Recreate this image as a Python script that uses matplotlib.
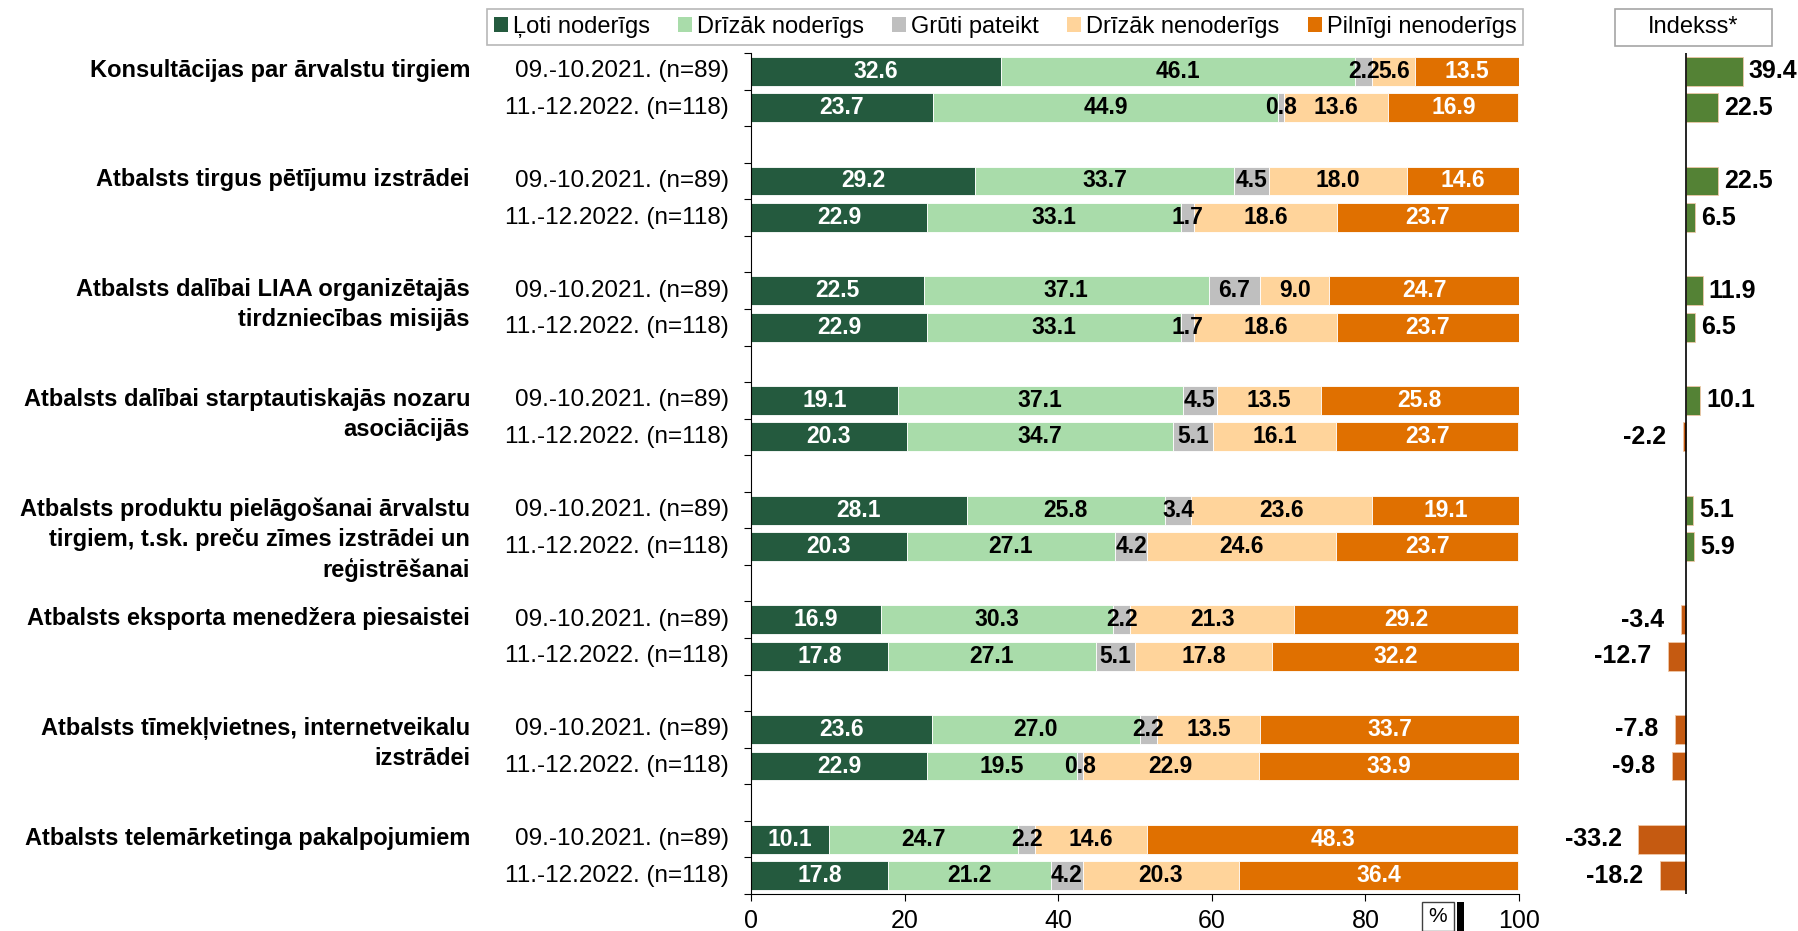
import matplotlib
matplotlib.use("Agg")
import matplotlib.pyplot as plt
from matplotlib.patches import Rectangle, Patch
import numpy as np

categories = [
    "Konsultācijas par ārvalstu tirgiem",
    "Atbalsts tirgus pētījumu izstrādei",
    "Atbalsts dalībai LIAA organizētajās\ntirdzniecības misijās",
    "Atbalsts dalībai starptautiskajās nozaru\nasociācijās",
    "Atbalsts produktu pielāgošanai ārvalstu\ntirgiem, t.sk. preču zīmes izstrādei un\nreģistrēšanai",
    "Atbalsts eksporta menedžera piesaistei",
    "Atbalsts tīmekļvietnes, internetveikalu\nizstrādei",
    "Atbalsts telemārketinga pakalpojumiem",
]
periods = ["09.-10.2021. (n=89)", "11.-12.2022. (n=118)"]
series_names = ["Ļoti noderīgs", "Drīzāk noderīgs", "Grūti pateikt", "Drīzāk nenoderīgs", "Pilnīgi nenoderīgs"]

loti_noderigs = [32.6, 23.7, 29.2, 22.9, 22.5, 22.9, 19.1, 20.3, 28.1, 20.3, 16.9, 17.8, 23.6, 22.9, 10.1, 17.8]
drizak_noderigs = [46.1, 44.9, 33.7, 33.1, 37.1, 33.1, 37.1, 34.7, 25.8, 27.1, 30.3, 27.1, 27.0, 19.5, 24.7, 21.2]
gruti_pateikt = [2.2, 0.8, 4.5, 1.7, 6.7, 1.7, 4.5, 5.1, 3.4, 4.2, 2.2, 5.1, 2.2, 0.8, 2.2, 4.2]
drizak_nenoderigs = [5.6, 13.6, 18.0, 18.6, 9.0, 18.6, 13.5, 16.1, 23.6, 24.6, 21.3, 17.8, 13.5, 22.9, 14.6, 20.3]
pilnigi_nenoderigs = [13.5, 16.9, 14.6, 23.7, 24.7, 23.7, 25.8, 23.7, 19.1, 23.7, 29.2, 32.2, 33.7, 33.9, 48.3, 36.4]
indekss = [39.4, 22.5, 22.5, 6.5, 11.9, 6.5, 10.1, -2.2, 5.1, 5.9, -3.4, -12.7, -7.8, -9.8, -33.2, -18.2]

colors = ["#245A3E", "#A9DCAA", "#BFBFBF", "#FFD49B", "#E07000"]
label_colors = ["white", "black", "black", "black", "white"]
pos_col, neg_col = "#548235", "#C55A11"

FONT = ["Liberation Sans", "DejaVu Sans"]

W, H = 1798, 931
fig = plt.figure(figsize=(W / 100, H / 100), dpi=100)


def fx(px):
    return px / W


def fy(py):
    return 1 - py / H


top_px, bot_px = 53, 894
n_slots = 23
ax = fig.add_axes([fx(751), fy(bot_px), fx(1519) - fx(751), (bot_px - top_px) / H])
axi = fig.add_axes([fx(1500), fy(bot_px), fx(1798) - fx(1500), (bot_px - top_px) / H])

series = [loti_noderigs, drizak_noderigs, gruti_pateikt, drizak_nenoderigs, pilnigi_nenoderigs]
ypos = []
for g in range(len(categories)):
    ypos += [3 * g, 3 * g + 1]
ypos = np.array(ypos)

left = np.zeros(len(ypos))
for s, vals in enumerate(series):
    vals = np.array(vals)
    ax.barh(ypos, vals, left=left, height=0.79, color=colors[s], edgecolor="white", linewidth=0.6)
    for y, l, v in zip(ypos, left, vals):
        ax.text(l + v / 2, y, f"{v:.1f}", ha="center", va="center", color=label_colors[s],
                fontsize=16.5, fontweight="bold", family=FONT)
    left += vals

ax.set_xlim(0, 100)
ax.set_ylim(n_slots - 0.5, -0.5)
ax.set_xticks(np.arange(0, 101, 20))
ax.tick_params(axis="x", labelsize=18, length=5, direction="out", pad=6)
for t in ax.get_xticklabels():
    t.set_family(FONT)
ax.set_yticks(np.arange(-0.5, n_slots, 1.0))
ax.set_yticklabels([])
ax.tick_params(axis="y", length=5, direction="out")
ax.spines["top"].set_visible(False)
ax.spines["right"].set_visible(False)

for i, y in enumerate(ypos):
    ax.annotate(periods[i % 2], xy=(0, y), xycoords=("axes fraction", "data"), xytext=(-16, 0),
                textcoords="offset points", ha="right", va="center", fontsize=17.5, family=FONT)
for g, cat in enumerate(categories):
    ax.annotate(cat, xy=(0, 3 * g), xycoords=("axes fraction", "data"), xytext=(-(751 - 470) * 0.72, 9),
                textcoords="offset points", ha="right", va="top", fontsize=17, fontweight="bold",
                family=FONT, linespacing=1.38, multialignment="right")

# index panel
axi.barh(ypos, indekss, height=0.79, color=[pos_col if v >= 0 else neg_col for v in indekss],
         edgecolor="#F0C8A8", linewidth=0.6)
for y, v in zip(ypos, indekss):
    if v >= 0:
        axi.annotate(f"{v:.1f}", xy=(v, y), xytext=(4, 0), textcoords="offset points",
                     ha="left", va="center", fontsize=18, fontweight="bold", family=FONT)
    else:
        axi.annotate(f"{v:.1f}", xy=(v, y), xytext=(-12, 0), textcoords="offset points",
                     ha="right", va="center", fontsize=18, fontweight="bold", family=FONT)
axi.set_xlim(-(1686 - 1500) / 1.435, (1798 - 1686) / 1.435)
axi.set_ylim(n_slots - 0.5, -0.5)
axi.axvline(0, color="black", lw=1.2)
axi.axis("off")

# legend
handles = [Patch(facecolor=c, edgecolor="none") for c in colors]
leg = fig.legend(handles, series_names, loc="center", bbox_to_anchor=(fx(1005), fy(27)), ncol=5,
                 frameon=True, fancybox=False, edgecolor="#A6A6A6", handlelength=0.6, handleheight=0.6,
                 handletextpad=0.2, columnspacing=1.2, borderpad=0.3,
                 prop={"family": FONT, "size": 17})
leg.get_frame().set_linewidth(1.2)

fig.patches.append(Rectangle((fx(1615), fy(46)), fx(1772) - fx(1615), (46 - 9) / H, transform=fig.transFigure,
                             facecolor="white", edgecolor="#A6A6A6", lw=1.2))
fig.text(fx(1693), fy(27), "Indekss*", ha="center", va="center", fontsize=17, family=FONT)

fig.patches.append(Rectangle((fx(1422), fy(931)), fx(1454) - fx(1422), (931 - 902) / H, transform=fig.transFigure,
                             facecolor="white", edgecolor="#404040", lw=1.0))
fig.text(fx(1438), fy(917), "%", ha="center", va="center", fontsize=15, family=FONT)
fig.patches.append(Rectangle((fx(1457), fy(931)), fx(1464) - fx(1457), (931 - 902) / H, transform=fig.transFigure,
                             facecolor="black", edgecolor="none"))

fig.savefig("out.png", dpi=100)
